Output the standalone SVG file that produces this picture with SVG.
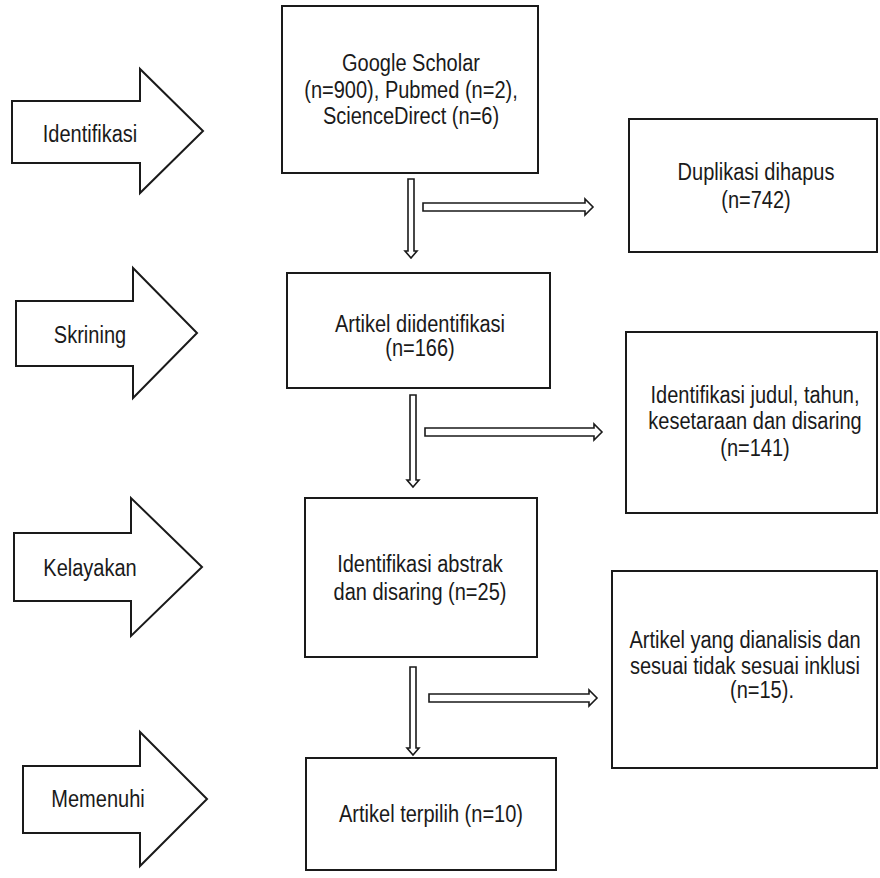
<svg xmlns="http://www.w3.org/2000/svg" width="880" height="878" viewBox="0 0 880 878">
<style>
.box{fill:#fff;stroke:#1a1a1a;stroke-width:2}
.big{fill:#fff;stroke:#1a1a1a;stroke-width:2;stroke-linejoin:miter}
.conn{fill:#fff;stroke:#1a1a1a;stroke-width:1.6;stroke-linejoin:miter}
text{font-family:"Liberation Sans",Arial,sans-serif;font-size:23px;fill:#1a1a1a;text-anchor:middle}
</style>
<rect width="880" height="878" fill="#fff"/>

<g id="stage-identifikasi">
<path class="big" d="M12,101 L140,101 L140,69 L203,131 L140,193 L140,163 L12,163 Z"/>
<text transform="translate(90,142) scale(0.87,1)">Identifikasi</text>
</g>
<g id="stage-skrining">
<path class="big" d="M16,301 L133,301 L133,268 L197,333 L133,398 L133,366 L16,366 Z"/>
<text transform="translate(90,343) scale(0.87,1)">Skrining</text>
</g>
<g id="stage-kelayakan">
<path class="big" d="M14,533 L131,533 L131,498 L202,567 L131,636 L131,601 L14,601 Z"/>
<text transform="translate(90,576) scale(0.87,1)">Kelayakan</text>
</g>
<g id="stage-memenuhi">
<path class="big" d="M23,766 L140,766 L140,732 L207,799 L140,866 L140,833 L23,833 Z"/>
<text transform="translate(98,807) scale(0.87,1)">Memenuhi</text>
</g>

<g id="box-sources">
<rect class="box" x="282" y="6" width="256" height="167"/>
<text transform="translate(411,71) scale(0.87,1)">Google Scholar</text>
<text transform="translate(411,98) scale(0.87,1)">(n=900), Pubmed (n=2),</text>
<text transform="translate(411,124) scale(0.87,1)">ScienceDirect (n=6)</text>
</g>
<g id="box-duplikasi">
<rect class="box" x="629" y="119" width="248" height="133"/>
<text transform="translate(756,180) scale(0.87,1)">Duplikasi dihapus</text>
<text transform="translate(756,208) scale(0.87,1)">(n=742)</text>
</g>
<g id="box-artikel">
<rect class="box" x="287" y="273" width="263" height="115"/>
<text transform="translate(420,332) scale(0.87,1)">Artikel diidentifikasi</text>
<text transform="translate(420,356) scale(0.87,1)">(n=166)</text>
</g>
<g id="box-judul">
<rect class="box" x="626" y="332" width="251" height="181"/>
<text transform="translate(755,403) scale(0.87,1)">Identifikasi judul, tahun,</text>
<text transform="translate(755,429) scale(0.87,1)">kesetaraan dan disaring</text>
<text transform="translate(755,456) scale(0.87,1)">(n=141)</text>
</g>
<g id="box-abstrak">
<rect class="box" x="305" y="498" width="232" height="159"/>
<text transform="translate(420,572) scale(0.87,1)">Identifikasi abstrak</text>
<text transform="translate(420,600) scale(0.87,1)">dan disaring (n=25)</text>
</g>
<g id="box-dianalisis">
<rect class="box" x="612" y="571" width="265" height="197"/>
<text transform="translate(745,648) scale(0.87,1)">Artikel yang dianalisis dan</text>
<text transform="translate(745,674) scale(0.87,1)">sesuai tidak sesuai inklusi</text>
<text transform="translate(762,698) scale(0.87,1)">(n=15).</text>
</g>
<g id="box-terpilih">
<rect class="box" x="306" y="758" width="250" height="112"/>
<text transform="translate(431,822) scale(0.87,1)">Artikel terpilih (n=10)</text>
</g>

<g id="connectors">
<path class="conn" d="M408,179 L414,179 L414,251 L417,251 L411,258 L405,251 L408,251 Z"/>
<path class="conn" d="M423,203 L585,203 L585,199 L593,207 L585,215 L585,211 L423,211 Z"/>
<path class="conn" d="M410,395 L416,395 L416,480 L419,480 L413,487 L407,480 L410,480 Z"/>
<path class="conn" d="M425,428 L594,428 L594,424 L602,432 L594,440 L594,436 L425,436 Z"/>
<path class="conn" d="M410,667 L416,667 L416,748 L419,748 L413,755 L407,748 L410,748 Z"/>
<path class="conn" d="M429,694 L589,694 L589,690 L597,698 L589,706 L589,702 L429,702 Z"/>
</g>
</svg>
